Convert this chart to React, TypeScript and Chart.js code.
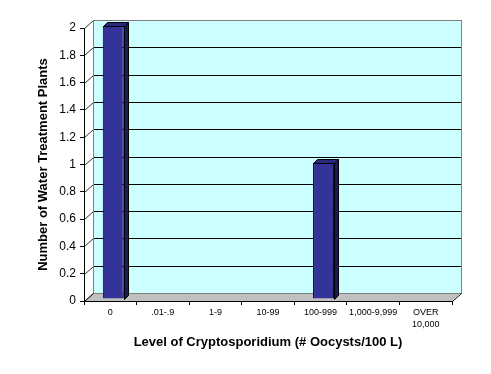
import React, { useEffect, useRef } from "react";
import { Chart, registerables } from "chart.js";

Chart.register(...registerables);

// ---- data ----
const categories: (string | string[])[] = ["0", ".01-.9", "1-9", "10-99", "100-999", "1,000-9,999", ["OVER", "10,000"]];
const plantCounts = [2, 0, 0, 0, 1, 0, 0];
const yMin = 0;
const yMax = 2;
const yStep = 0.2;
const xTitle = "Level of Cryptosporidium (# Oocysts/100 L)";
const yTitle = "Number of Water Treatment Plants";

// ---- 3D look ----
const DX = 9; // wall depth x
const DY = 8; // wall depth y
const BX = 3; // bar shift into depth
const BY = -2;
const BDX = 4; // bar own depth
const BDY = 4;
const FONT = "Arial, 'Liberation Sans', sans-serif";

const threeD = {
  id: "threeD",
  beforeDraw(chart: any) {
    const { ctx, chartArea, scales } = chart;
    const { left, right, top, bottom } = chartArea;
    const y = scales.y;
    ctx.save();
    ctx.fillStyle = "#ffffff";
    ctx.fillRect(0, 0, chart.width, chart.height);

    const wl = left + DX;
    const wr = right + DX;
    const wt = top - DY;
    const wb = bottom - DY;
    ctx.fillStyle = "#ccffff";
    ctx.fillRect(wl, wt, wr - wl, wb - wt);

    ctx.lineWidth = 1;
    y.ticks.forEach((t: any) => {
      const fy = Math.round(y.getPixelForValue(t.value));
      const by = fy - DY;
      ctx.strokeStyle = "#000000";
      if (t.value > yMin && t.value < yMax) {
        ctx.beginPath();
        ctx.moveTo(wl, by + 0.5);
        ctx.lineTo(wr, by + 0.5);
        ctx.stroke();
      }
      ctx.strokeStyle = "#303030";
      ctx.beginPath();
      ctx.moveTo(left + 0.5, fy + 0.5);
      ctx.lineTo(wl + 0.5, by + 0.5);
      ctx.stroke();
    });

    // wall border
    ctx.strokeStyle = "#808080";
    ctx.strokeRect(wl + 0.5, wt + 0.5, wr - wl, wb - wt);

    // floor
    ctx.fillStyle = "#c0c0c0";
    ctx.beginPath();
    ctx.moveTo(left, bottom);
    ctx.lineTo(right, bottom);
    ctx.lineTo(wr, wb);
    ctx.lineTo(wl, wb);
    ctx.closePath();
    ctx.fill();
    ctx.strokeStyle = "#808080";
    ctx.beginPath();
    ctx.moveTo(wl, wb + 0.5);
    ctx.lineTo(wr, wb + 0.5);
    ctx.stroke();
    ctx.strokeStyle = "#000000";
    ctx.beginPath();
    ctx.moveTo(right + 0.5, bottom + 0.5);
    ctx.lineTo(wr + 0.5, wb + 0.5);
    ctx.moveTo(left + 0.5, bottom + 0.5);
    ctx.lineTo(wl + 0.5, wb + 0.5);
    ctx.stroke();
    ctx.restore();
  },
  beforeDatasetsDraw(chart: any) {
    chart.ctx.save();
    chart.ctx.translate(BX, BY);
  },
  afterDatasetsDraw(chart: any) {
    const ctx = chart.ctx;
    const meta = chart.getDatasetMeta(0);
    meta.data.forEach((bar: any, i: number) => {
      if (!plantCounts[i]) return;
      const { x, y, base, width } = bar.getProps(["x", "y", "base", "width"], true);
      const l = Math.round(x - width / 2) + 0.5;
      const r = Math.round(x + width / 2) + 0.5;
      const t = Math.round(y) + 0.5;
      const b = Math.round(base) + 0.5;
      ctx.lineWidth = 1;
      ctx.strokeStyle = "#000000";
      // side
      ctx.fillStyle = "#1c1c55";
      ctx.beginPath();
      ctx.moveTo(r, t);
      ctx.lineTo(r + BDX, t - BDY);
      ctx.lineTo(r + BDX, b - BDY);
      ctx.lineTo(r, b);
      ctx.closePath();
      ctx.fill();
      ctx.stroke();
      // top
      ctx.fillStyle = "#2a2a80";
      ctx.beginPath();
      ctx.moveTo(l, t);
      ctx.lineTo(l + BDX, t - BDY);
      ctx.lineTo(r + BDX, t - BDY);
      ctx.lineTo(r, t);
      ctx.closePath();
      ctx.fill();
      ctx.stroke();
    });
    ctx.restore();
  },
};

export default function App() {
  const ref = useRef<HTMLCanvasElement | null>(null);
  useEffect(() => {
    document.body.style.margin = "0";
    const canvas = ref.current;
    if (!canvas) return;
    const chart = new Chart(canvas, {
      type: "bar",
      data: {
        labels: categories as any,
        datasets: [
          {
            data: plantCounts,
            backgroundColor: "#333399",
            borderColor: "#000000",
            borderWidth: 1,
            categoryPercentage: 0.4,
            barPercentage: 1,
            clip: false as any,
          },
        ],
      },
      options: {
        responsive: false,
        animation: false,
        devicePixelRatio: 1,
        layout: { padding: { left: 0, top: 28, right: 39, bottom: 0 } },
        plugins: { legend: { display: false }, tooltip: { enabled: false } },
        scales: {
          x: {
            grid: { display: true, offset: true, drawOnChartArea: false, drawTicks: true, tickLength: 4, color: "#000000" },
            border: { display: true, color: "#000000" },
            ticks: { color: "#000000", font: { family: FONT, size: 9, lineHeight: 1.3 }, padding: 2, maxRotation: 0, autoSkip: false },
            title: { display: true, text: xTitle, color: "#000000", font: { family: FONT, size: 13, weight: "bold" }, padding: { top: 0, bottom: 24 } },
            afterFit: (s: any) => { s.height = 73; },
          },
          y: {
            min: yMin,
            max: yMax,
            ticks: {
              stepSize: yStep,
              color: "#000000",
              font: { family: FONT, size: 12 },
              padding: 4,
              callback: (v: any) => String(Number(Number(v).toFixed(1))),
            },
            grid: { display: true, drawOnChartArea: false, drawTicks: true, tickLength: 4, color: "#000000" },
            border: { display: true, color: "#000000" },
            title: { display: true, text: yTitle, color: "#000000", font: { family: FONT, size: 13, weight: "bold" }, padding: { top: 36, bottom: 0 } },
            afterFit: (s: any) => { s.width = 84; },
          },
        },
      },
      plugins: [threeD],
    });
    return () => chart.destroy();
  }, []);
  return (
    <div style={{ width: 491, height: 374 }}>
      <canvas ref={ref} width={491} height={374} style={{ display: "block" }} />
    </div>
  );
}
